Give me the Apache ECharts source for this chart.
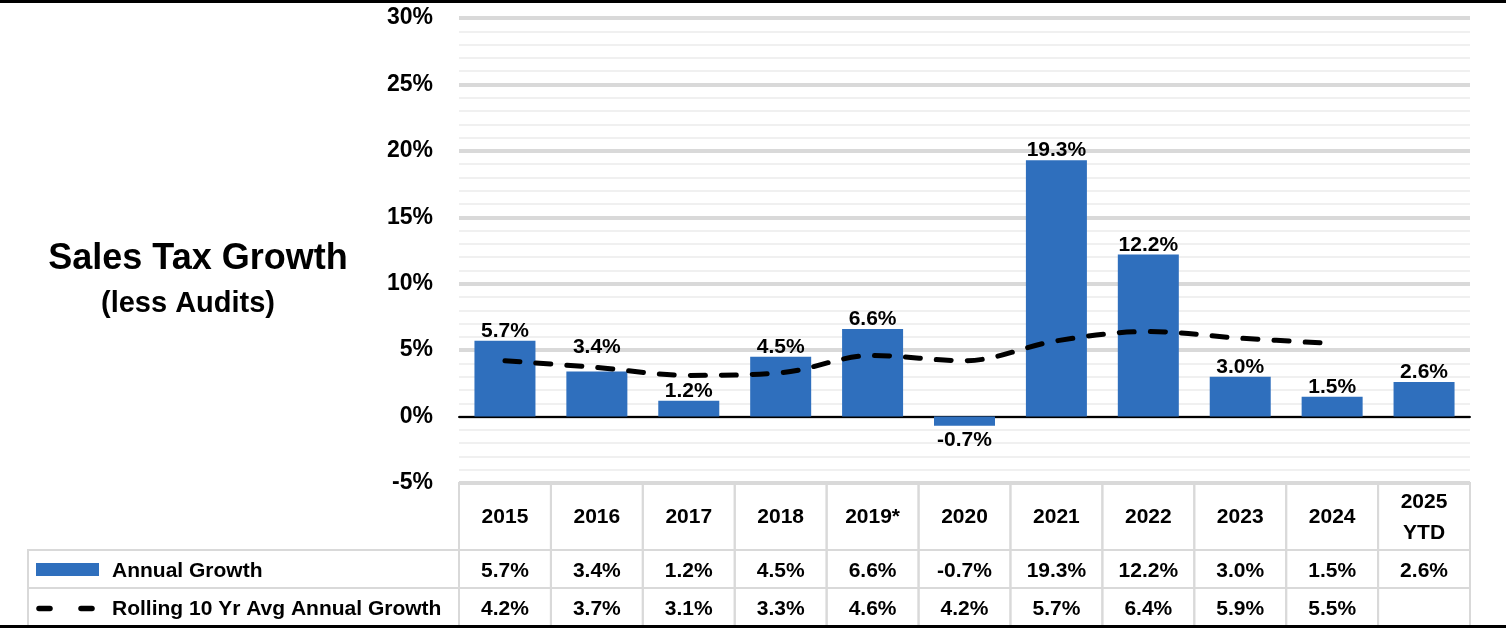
<!DOCTYPE html>
<html>
<head>
<meta charset="utf-8">
<script src="https://cdn.jsdelivr.net/npm/echarts@6/dist/echarts.min.js"></script>
<style>
html,body{margin:0;padding:0;background:#fff;}
#chart{width:1506px;height:630px;}
</style>
</head>
<body>
<div id="chart"></div>
<script>
// ---- data ----
const categories = ['2015','2016','2017','2018','2019*','2020','2021','2022','2023','2024','2025\nYTD'];
const annualGrowth = [5.7, 3.4, 1.2, 4.5, 6.6, -0.7, 19.3, 12.2, 3.0, 1.5, 2.6];
const rollingAvg = [4.2, 3.7, 3.1, 3.3, 4.6, 4.2, 5.7, 6.4, 5.9, 5.5, null];
const seriesNames = ['Annual Growth', 'Rolling 10 Yr Avg Annual Growth'];
const yMin = -5, yMax = 30, yStep = 5;
const titleText = 'Sales Tax Growth';
const subtitleText = '(less Audits)';

// ---- layout ----
const W = 1506;
const plotLeft = 459, plotRight = 1470, plotTop = 18, plotBottom = 483;
const tableLeft = 28, tableBottom = 627;
const colW = (plotRight - plotLeft) / categories.length;
const legendUnits = (plotLeft - tableLeft) / colW;
const rowEdges = [0, 67, 105, 144]; // table rows (px from table top)
const raisedLabelDistance = {'2016': 14}; // label moved above the dashed line
const FONT = '"Liberation Sans", Arial, sans-serif';
const BAR_COLOR = '#2f6fbd';
const fmt = v => (v == null ? '' : v.toFixed(1) + '%');

const chart = echarts.init(document.getElementById('chart'));

// table cells: [col, row]; col -1 = legend column
const cells = [];
for (let c = 0; c < categories.length; c++) cells.push([c, 0]);
cells.push([-1, 1]);
for (let c = 0; c < categories.length; c++) cells.push([c, 1]);
cells.push([-1, 2]);
for (let c = 0; c < categories.length; c++) cells.push([c, 2]);

function cellText(col, row) {
  if (row === 0) return categories[col];
  if (row === 1) return fmt(annualGrowth[col]);
  return fmt(rollingAvg[col]);
}

function renderCell(params, api) {
  const col = api.value(0), row = api.value(1);
  const x0 = col < 0 ? -legendUnits : col;
  const x1 = col < 0 ? 0 : col + 1;
  const p0 = api.coord([x0, rowEdges[row]]);
  const p1 = api.coord([x1, rowEdges[row + 1]]);
  const cx = (p0[0] + p1[0]) / 2, cy = (p0[1] + p1[1]) / 2;
  const dy = row === 0 ? 1 : 2;
  const children = [{
    type: 'rect',
    shape: {x: p0[0], y: p0[1], width: p1[0] - p0[0], height: p1[1] - p0[1]},
    style: {fill: 'none', stroke: '#d9d9d9', lineWidth: 2}
  }];
  if (col < 0) {
    if (row === 1) {
      children.push({type: 'rect', shape: {x: p0[0] + 8, y: cy - 6, width: 63, height: 13}, style: {fill: BAR_COLOR}});
    } else {
      children.push({type: 'line', shape: {x1: p0[0] + 11, y1: cy + 1, x2: p0[0] + 22, y2: cy + 1}, style: {stroke: '#000', lineWidth: 5.5, lineCap: 'round'}});
      children.push({type: 'line', shape: {x1: p0[0] + 53, y1: cy + 1, x2: p0[0] + 64, y2: cy + 1}, style: {stroke: '#000', lineWidth: 5.5, lineCap: 'round'}});
    }
    children.push({type: 'text', x: p0[0] + 84, y: cy + dy,
      style: {text: seriesNames[row - 1], font: 'bold 21px ' + FONT, fill: '#000', align: 'left', verticalAlign: 'middle'}});
  } else {
    children.push({type: 'text', x: cx, y: cy + dy,
      style: {text: cellText(col, row), font: 'bold 21px ' + FONT, fill: '#000', align: 'center', verticalAlign: 'middle', lineHeight: 31}});
  }
  return {type: 'group', children};
}

const barData = annualGrowth.map((v, i) => {
  if (v < 0) return {value: v, label: {position: 'bottom', distance: 4}};
  const d = raisedLabelDistance[categories[i]];
  return d != null ? {value: v, label: {distance: d}} : v;
});

const option = {
  animation: false,
  backgroundColor: '#fff',
  title: [
    {text: titleText, left: 193, top: 236, textAlign: 'center',
     textStyle: {fontFamily: FONT, fontWeight: 'bold', fontSize: 36, color: '#000'}},
    {text: subtitleText, left: 183, top: 284, textAlign: 'center',
     textStyle: {fontFamily: FONT, fontWeight: 'bold', fontSize: 29, color: '#000'}}
  ],
  grid: [
    {left: plotLeft, right: W - plotRight, top: plotTop, bottom: 630 - plotBottom},
    {left: tableLeft, right: W - plotRight, top: plotBottom, bottom: 630 - tableBottom}
  ],
  xAxis: [
    {type: 'category', gridIndex: 0, data: categories,
     axisLine: {onZero: true, lineStyle: {color: '#000', width: 2}},
     axisTick: {show: false}, axisLabel: {show: false}, splitLine: {show: false}},
    {type: 'value', gridIndex: 1, min: -legendUnits, max: categories.length, show: false}
  ],
  yAxis: [
    {type: 'value', gridIndex: 0, min: yMin, max: yMax, interval: yStep,
     axisLine: {show: false}, axisTick: {show: false},
     axisLabel: {formatter: '{value}%', fontFamily: FONT, fontWeight: 'bold', fontSize: 23, color: '#000', margin: 26},
     splitLine: {show: true, lineStyle: {color: '#d9d9d9', width: 4}},
     minorTick: {show: false, splitNumber: 5},
     minorSplitLine: {show: true, lineStyle: {color: '#f0f0f0', width: 2}}},
    {type: 'value', gridIndex: 1, min: 0, max: rowEdges[rowEdges.length - 1], inverse: true, show: false}
  ],
  series: [
    {name: seriesNames[0], type: 'bar', xAxisIndex: 0, yAxisIndex: 0,
     barWidth: 61, z: 2,
     itemStyle: {color: BAR_COLOR},
     label: {show: true, position: 'top', distance: -1, formatter: p => fmt(p.value),
             fontFamily: FONT, fontWeight: 'bold', fontSize: 21, color: '#000'},
     data: barData},
    {name: seriesNames[1], type: 'line', xAxisIndex: 0, yAxisIndex: 0,
     data: rollingAvg, smooth: 0.35, symbol: 'none', z: 3,
     lineStyle: {color: '#000', width: 5, type: [15, 16], cap: 'round'}},
    {name: 'table', type: 'custom', xAxisIndex: 1, yAxisIndex: 1,
     renderItem: renderCell, data: cells, encode: {x: 0, y: 1}, clip: false, silent: true, z: 1}
  ],
  graphic: [
    {type: 'line', shape: {x1: 0, y1: 1.5, x2: W, y2: 1.5}, style: {stroke: '#000', lineWidth: 3}, z: 10},
    {type: 'line', shape: {x1: 0, y1: 626.5, x2: W, y2: 626.5}, style: {stroke: '#000', lineWidth: 3}, z: 10}
  ]
};
chart.setOption(option);
</script>
</body>
</html>
